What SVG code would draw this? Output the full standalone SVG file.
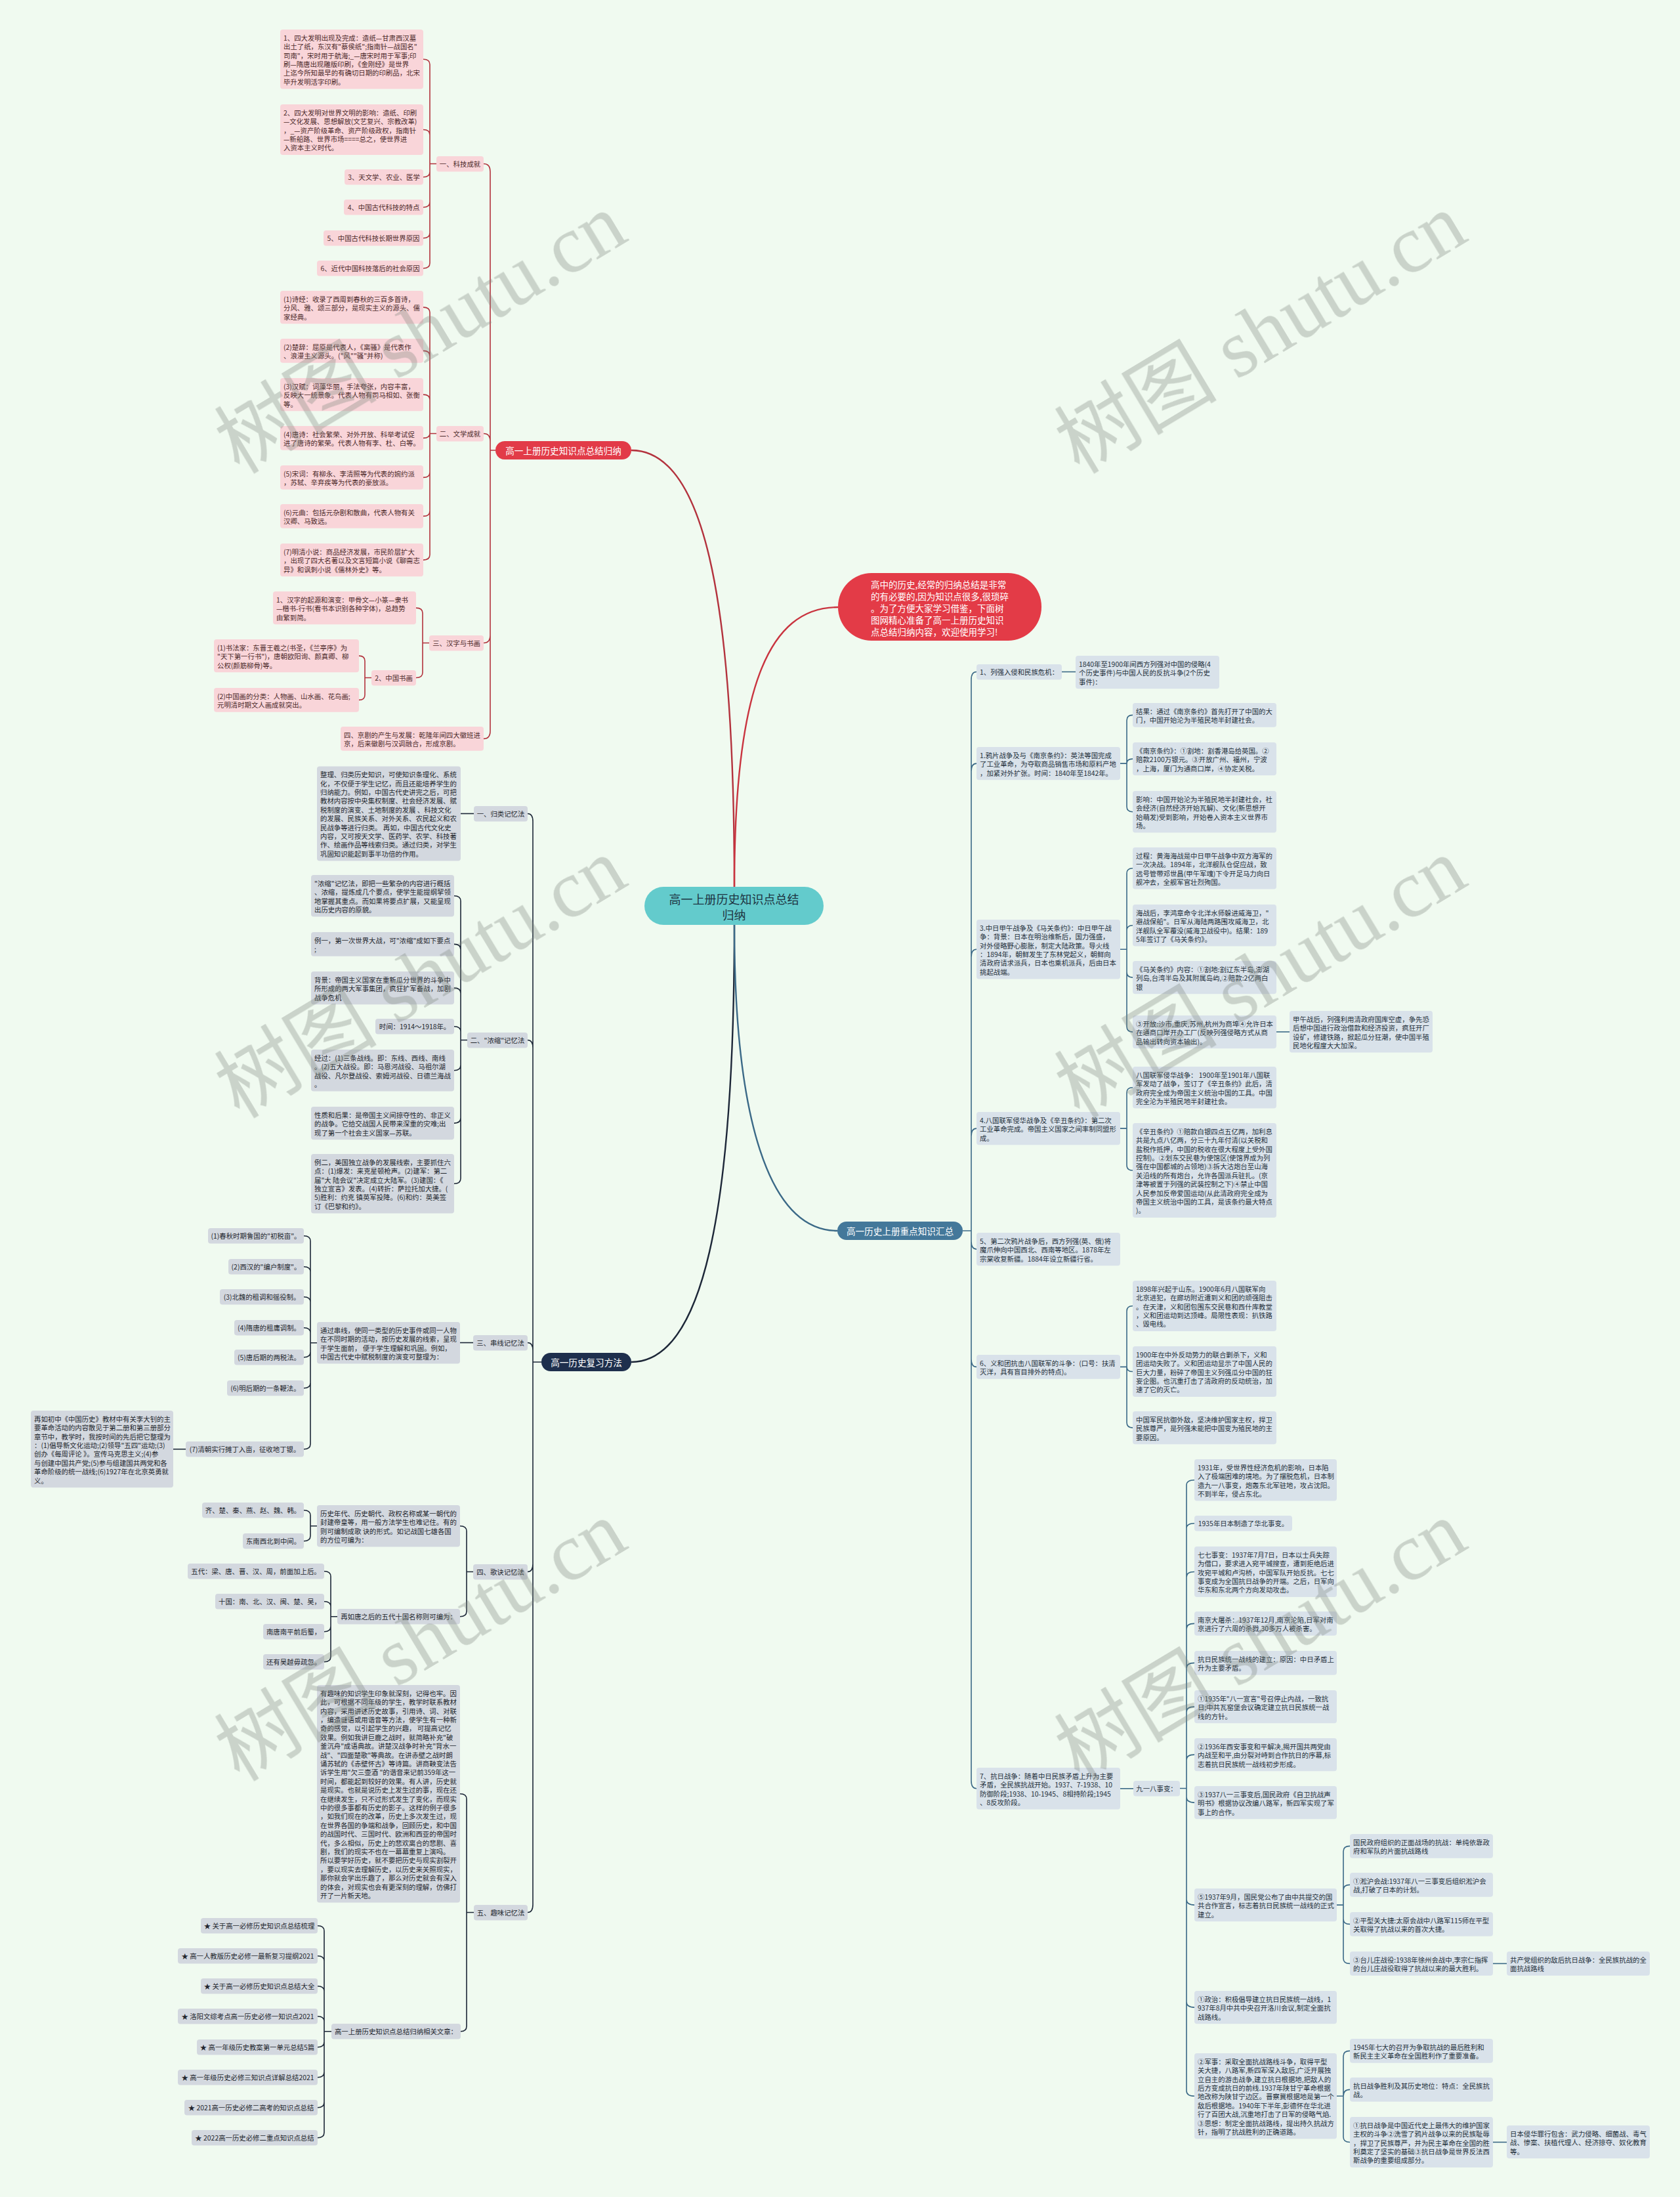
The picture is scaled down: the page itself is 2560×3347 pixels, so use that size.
<svg xmlns="http://www.w3.org/2000/svg" width="2560" height="3347" viewBox="0 0 2560 3347">
<style>
.t{font-family:"Noto Sans CJK SC","Liberation Sans",sans-serif;font-size:10.4px;dominant-baseline:central}
.m{text-anchor:middle}
.pk{fill:#f9d5d9}
.gy{fill:#d3d8df}
.bl{fill:#d9e2ea}
.pt{fill:#4d2b2b}
.gt{fill:#23272e}
.bt{fill:#24303b}
.w{fill:#ffffff;font-size:13.6px}
.lr{fill:none;stroke:#b3323d;stroke-width:1.6}
.ln{fill:none;stroke:#1d2738;stroke-width:1.6}
.ls{fill:none;stroke:#3b6987;stroke-width:1.6}
</style>
<rect width="2560" height="3347" fill="#f0faf0"/>

<g id="connectors">
<path fill="none" stroke="#b3323d" stroke-width="2.4" d="M1119 1351 C1119 900 1070 686 962 686"/>
<path fill="none" stroke="#c9343f" stroke-width="2.4" d="M1119 1351 C1119 1050 1170 925 1277 925"/>
<path fill="none" stroke="#1d2738" stroke-width="2.4" d="M1119 1409 C1119 1850 1070 2075 962 2075"/>
<path fill="none" stroke="#3b6987" stroke-width="2.4" d="M1119 1409 C1119 1700 1170 1875 1276 1875"/>

<path class="lr" stroke-width="2" d="M755 686 H747 V261.5 Q747 249.5 737 249.5 M755 686 H747 V672.5 Q747 660.5 737 660.5 M755 686 H747 V967.5 Q747 979.5 737 979.5 M755 686 H747 V1113.4 Q747 1125.4 737 1125.4"/>
<path class="lr" d="M665 249.5 H655 V98.2 Q655 90.2 645 90.2 M665 249.5 H655 V205.5 Q655 197.5 645 197.5 M665 249.5 H655 V261.7 Q655 269.7 645 269.7 M665 249.5 H655 V307.7 Q655 315.7 645 315.7 M665 249.5 H655 V354.7 Q655 362.7 645 362.7 M665 249.5 H655 V400.7 Q655 408.7 645 408.7"/>
<path class="lr" d="M665 660.5 H655 V476.1 Q655 468.1 645 468.1 M665 660.5 H655 V542.4 Q655 534.4 645 534.4 M665 660.5 H655 V609.1 Q655 601.1 645 601.1 M665 660.5 H655 Q655 667.4 645 667.4 M665 660.5 H655 V719.4 Q655 727.4 645 727.4 M665 660.5 H655 V778.4 Q655 786.4 645 786.4 M665 660.5 H655 V845.1 Q655 853.1 645 853.1"/>
<path class="lr" d="M654 979.5 H644 V934.1 Q644 926.1 634 926.1 M654 979.5 H644 V1024.5 Q644 1032.5 634 1032.5"/>
<path class="lr" d="M566 1032.5 H556 V1007.1 Q556 999.1 547 999.1 M566 1032.5 H556 V1058.4 Q556 1066.4 547 1066.4"/>

<path class="ln" stroke-width="2" d="M825 2075 H812 V1251.5 Q812 1239.5 804 1239.5 M825 2075 H812 V1596.5 Q812 1584.5 804 1584.5 M825 2075 H812 V2057.5 Q812 2045.5 804 2045.5 M825 2075 H812 V2382.5 Q812 2394.5 804 2394.5 M825 2075 H812 V2901.5 Q812 2913.5 804 2913.5"/>
<path class="ln" d="M722 1239.5 H702"/>
<path class="ln" d="M712 1584.5 H702 V1372.8 Q702 1364.8 692 1364.8 M712 1584.5 H702 V1446.4 Q702 1438.4 692 1438.4 M712 1584.5 H702 V1513.1 Q702 1505.1 692 1505.1 M712 1584.5 H702 V1571.7 Q702 1563.7 692 1563.7 M712 1584.5 H702 V1622.8 Q702 1630.8 692 1630.8 M712 1584.5 H702 V1703.1 Q702 1711.1 692 1711.1 M712 1584.5 H702 V1795.2 Q702 1803.2 692 1803.2"/>
<path class="ln" d="M721 2045.5 H701"/>
<path class="ln" d="M483 2045.8 H473 V1890.7 Q473 1882.7 463 1882.7 M483 2045.8 H473 V1937.7 Q473 1929.7 463 1929.7 M483 2045.8 H473 V1983.7 Q473 1975.7 463 1975.7 M483 2045.8 H473 V2030.7 Q473 2022.7 463 2022.7 M483 2045.8 H473 V2059.7 Q473 2067.7 463 2067.7 M483 2045.8 H473 V2106.7 Q473 2114.7 463 2114.7 M483 2045.8 H473 V2199.7 Q473 2207.7 463 2207.7"/>
<path class="ln" d="M283 2207.7 H264"/>
<path class="ln" d="M721 2394.5 H711 V2332.8 Q711 2324.8 701 2324.8 M721 2394.5 H711 V2454.7 Q711 2462.7 701 2462.7"/>
<path class="ln" d="M483 2324.8 H473 V2308.7 Q473 2300.7 463 2300.7 M483 2324.8 H473 V2339.7 Q473 2347.7 463 2347.7"/>
<path class="ln" d="M514 2462.7 H504 V2401.7 Q504 2393.7 494 2393.7 M514 2462.7 H504 V2447.7 Q504 2439.7 494 2439.7 M514 2462.7 H504 V2477.7 Q504 2485.7 494 2485.7 M514 2462.7 H504 V2523.7 Q504 2531.7 494 2531.7"/>
<path class="ln" d="M722 2913.5 H711 V2740.8 Q711 2732.8 701 2732.8 M722 2913.5 H711 V3086.7 Q711 3094.7 702 3094.7"/>
<path class="ln" d="M505 3094.7 H494 V2941.7 Q494 2933.7 484 2933.7 M505 3094.7 H494 V2987.7 Q494 2979.7 484 2979.7 M505 3094.7 H494 V3033.7 Q494 3025.7 484 3025.7 M505 3094.7 H494 V3079.7 Q494 3071.7 484 3071.7 M505 3094.7 H494 V3110.7 Q494 3118.7 484 3118.7 M505 3094.7 H494 V3156.7 Q494 3164.7 484 3164.7 M505 3094.7 H494 V3202.7 Q494 3210.7 484 3210.7 M505 3094.7 H494 V3248.7 Q494 3256.7 484 3256.7"/>

<path class="ls" stroke-width="2" d="M1467 1875 H1480 V1035.5 Q1480 1023.5 1488 1023.5 M1467 1875 H1480 V1175.1 Q1480 1163.1 1488 1163.1 M1467 1875 H1480 V1458.2 Q1480 1446.2 1488 1446.2 M1467 1875 H1480 V1731.1 Q1480 1719.1 1488 1719.1 M1467 1875 H1480 V1891.1 Q1480 1903.1 1488 1903.1 M1467 1875 H1480 V2070.4 Q1480 2082.4 1488 2082.4 M1467 1875 H1480 V2712.8 Q1480 2724.8 1488 2724.8"/>
<path class="ls" d="M1618 1023.5 H1639"/>
<path class="ls" d="M1707 1163.1 H1717 V1097.4 Q1717 1089.4 1726 1089.4 M1707 1163.1 H1717 Q1717 1156.1 1726 1156.1 M1707 1163.1 H1717 V1228.8 Q1717 1236.8 1726 1236.8"/>
<path class="ls" d="M1707 1446.2 H1717 V1330.8 Q1717 1322.8 1726 1322.8 M1707 1446.2 H1717 V1417.8 Q1717 1409.8 1726 1409.8 M1707 1446.2 H1717 V1481.1 Q1717 1489.1 1726 1489.1 M1707 1446.2 H1717 V1564.1 Q1717 1572.1 1726 1572.1"/>
<path class="ls" d="M1945 1572 H1965"/>
<path class="ls" d="M1707 1719.1 H1717 V1664.8 Q1717 1656.8 1726 1656.8 M1707 1719.1 H1717 V1775 Q1717 1783 1726 1783"/>
<path class="ls" d="M1707 2082.4 H1717 V1997.5 Q1717 1989.5 1726 1989.5 M1707 2082.4 H1717 Q1717 2089.5 1726 2089.5 M1707 2082.4 H1717 V2167.1 Q1717 2175.1 1726 2175.1"/>
<path class="ls" d="M1707 2724.8 H1727"/>
<path class="ls" d="M1798 2724.5 H1808 V2262.8 Q1808 2254.8 1820 2254.8 M1798 2724.5 H1808 V2328.7 Q1808 2320.7 1820 2320.7 M1798 2724.5 H1808 V2402.5 Q1808 2394.5 1820 2394.5 M1798 2724.5 H1808 V2481.4 Q1808 2473.4 1820 2473.4 M1798 2724.5 H1808 V2541.4 Q1808 2533.4 1820 2533.4 M1798 2724.5 H1808 V2608.1 Q1808 2600.1 1820 2600.1 M1798 2724.5 H1808 V2681.1 Q1808 2673.1 1820 2673.1 M1798 2724.5 H1808 V2738.1 Q1808 2746.1 1820 2746.1 M1798 2724.5 H1808 V2894.1 Q1808 2902.1 1820 2902.1 M1798 2724.5 H1808 V3050.1 Q1808 3058.1 1820 3058.1 M1798 2724.5 H1808 V3185.3 Q1808 3193.3 1820 3193.3"/>
<path class="ls" d="M2037 2902.1 H2047 V2820.4 Q2047 2812.4 2057 2812.4 M2037 2902.1 H2047 V2879.4 Q2047 2871.4 2057 2871.4 M2037 2902.1 H2047 V2923.4 Q2047 2931.4 2057 2931.4 M2037 2902.1 H2047 V2983.4 Q2047 2991.4 2057 2991.4"/>
<path class="ls" d="M2275 2991.4 H2296"/>
<path class="ls" d="M2037 3193.3 H2047 V3132.4 Q2047 3124.4 2057 3124.4 M2037 3193.3 H2047 Q2047 3183.4 2057 3183.4 M2037 3193.3 H2047 V3255.5 Q2047 3263.5 2057 3263.5"/>
<path class="ls" d="M2275 3263.5 H2296"/>
</g>

<g id="root">
<rect x="982" y="1351" width="273" height="58" rx="29" fill="#63cbcc"/>
<text class="t m" x="1118.5" y="1369" style="font-size:18px;fill:#1e3442"><tspan x="1118.5">高一上册历史知识点总结</tspan><tspan x="1118.5" dy="24">归纳</tspan></text>
</g>

<g id="intro">
<rect x="1277" y="873" width="310" height="103" rx="51" fill="#e33b47"/>
<text class="t" x="1327" y="889.5" style="font-size:13.5px;fill:#ffffff"><tspan x="1327">高中的历史,经常的归纳总结是非常</tspan><tspan x="1327" dy="18">的有必要的,因为知识点很多,很琐碎</tspan><tspan x="1327" dy="18">。为了方便大家学习借鉴，下面树</tspan><tspan x="1327" dy="18">图网精心准备了高一上册历史知识</tspan><tspan x="1327" dy="18">点总结归纳内容，欢迎使用学习!</tspan></text>
</g>

<g id="branch-red">
<rect x="755" y="672" width="207" height="28" rx="14" fill="#e23b48"/>
<text class="t m w" x="858.5" y="686">高一上册历史知识点总结归纳</text>
</g>
<g id="r1"><rect class="pk" x="665" y="238" width="72" height="23.4" rx="4"/><text class="t m pt" x="701" y="249.7">一、科技成就</text></g>
<g id="k1"><rect class="pk" x="427" y="45" width="218" height="90.4" rx="4"/><text class="t pt" x="432" y="56.7"><tspan x="432">1、四大发明出现及完成：造纸—甘肃西汉墓</tspan><tspan x="432" dy="13.4">出土了纸，东汉有"蔡侯纸";指南针—战国名"</tspan><tspan x="432" dy="13.4">司南"，宋时用于航海;_—唐宋时用于军事;印</tspan><tspan x="432" dy="13.4">刷—隋唐出现雕版印刷，《金刚经》是世界</tspan><tspan x="432" dy="13.4">上迄今所知最早的有确切日期的印刷品，北宋</tspan><tspan x="432" dy="13.4">毕升发明活字印刷。</tspan></text></g>
<g id="k2"><rect class="pk" x="427" y="159" width="218" height="77" rx="4"/><text class="t pt" x="432" y="170.7"><tspan x="432">2、四大发明对世界文明的影响：造纸、印刷</tspan><tspan x="432" dy="13.4">—文化发展、思想解放(文艺复兴、宗教改革)</tspan><tspan x="432" dy="13.4">，_—资产阶级革命、资产阶级政权，指南针</tspan><tspan x="432" dy="13.4">—新船路、世界市场====总之，使世界进</tspan><tspan x="432" dy="13.4">入资本主义时代。</tspan></text></g>
<g id="k3"><rect class="pk" x="525" y="258" width="120" height="23.4" rx="4"/><text class="t m pt" x="585" y="269.7">3、天文学、农业、医学</text></g>
<g id="k4"><rect class="pk" x="524" y="304" width="121" height="23.4" rx="4"/><text class="t m pt" x="584.5" y="315.7">4、中国古代科技的特点</text></g>
<g id="k5"><rect class="pk" x="493" y="351" width="152" height="23.4" rx="4"/><text class="t m pt" x="569" y="362.7">5、中国古代科技长期世界原因</text></g>
<g id="k6"><rect class="pk" x="483" y="397" width="162" height="23.4" rx="4"/><text class="t m pt" x="564" y="408.7">6、近代中国科技落后的社会原因</text></g>

<g id="r2"><rect class="pk" x="665" y="649" width="72" height="23.4" rx="4"/><text class="t m pt" x="701" y="660.7">二、文学成就</text></g>
<g id="l1"><rect class="pk" x="427" y="443" width="218" height="50.2" rx="4"/><text class="t pt" x="432" y="454.7"><tspan x="432">(1)诗经：收录了西周到春秋的三百多首诗，</tspan><tspan x="432" dy="13.4">分风、雅、颂三部分，是现实主义的源头、儒</tspan><tspan x="432" dy="13.4">家经典。</tspan></text></g>
<g id="l2"><rect class="pk" x="427" y="516" width="218" height="36.8" rx="4"/><text class="t pt" x="432" y="527.7"><tspan x="432">(2)楚辞：屈原是代表人，《离骚》是代表作</tspan><tspan x="432" dy="13.4">、浪漫主义源头。("风""骚"并称)</tspan></text></g>
<g id="l3"><rect class="pk" x="427" y="576" width="218" height="50.2" rx="4"/><text class="t pt" x="432" y="587.7"><tspan x="432">(3)汉赋：词藻华丽，手法夸张，内容丰富，</tspan><tspan x="432" dy="13.4">反映大一统景象。代表人物有司马相如、张衡</tspan><tspan x="432" dy="13.4">等。</tspan></text></g>
<g id="l4"><rect class="pk" x="427" y="649" width="218" height="36.8" rx="4"/><text class="t pt" x="432" y="660.7"><tspan x="432">(4)唐诗：社会繁荣、对外开放、科举考试促</tspan><tspan x="432" dy="13.4">进了唐诗的繁荣。代表人物有李、杜、白等。</tspan></text></g>
<g id="l5"><rect class="pk" x="427" y="709" width="218" height="36.8" rx="4"/><text class="t pt" x="432" y="720.7"><tspan x="432">(5)宋词：有柳永、李清照等为代表的婉约派</tspan><tspan x="432" dy="13.4">，苏轼、辛弃疾等为代表的豪放派。</tspan></text></g>
<g id="l6"><rect class="pk" x="427" y="768" width="218" height="36.8" rx="4"/><text class="t pt" x="432" y="779.7"><tspan x="432">(6)元曲：包括元杂剧和散曲，代表人物有关</tspan><tspan x="432" dy="13.4">汉卿、马致远。</tspan></text></g>
<g id="l7"><rect class="pk" x="427" y="828" width="218" height="50.2" rx="4"/><text class="t pt" x="432" y="839.7"><tspan x="432">(7)明清小说：商品经济发展，市民阶层扩大</tspan><tspan x="432" dy="13.4">，出现了四大名著以及文言短篇小说《聊斋志</tspan><tspan x="432" dy="13.4">异》和讽刺小说《儒林外史》等。</tspan></text></g>

<g id="r3"><rect class="pk" x="654" y="968" width="83" height="23.4" rx="4"/><text class="t m pt" x="695.5" y="979.7">三、汉字与书画</text></g>
<g id="h1"><rect class="pk" x="416" y="901" width="218" height="50.2" rx="4"/><text class="t pt" x="421" y="912.7"><tspan x="421">1、汉字的起源和演变：甲骨文—小篆—隶书</tspan><tspan x="421" dy="13.4">—楷书-行书(看书本识别各种字体)，总趋势</tspan><tspan x="421" dy="13.4">由繁到简。</tspan></text></g>
<g id="h2"><rect class="pk" x="566" y="1021" width="68" height="23.4" rx="4"/><text class="t m pt" x="600" y="1032.7">2、中国书画</text></g>
<g id="h2a"><rect class="pk" x="326" y="974" width="221" height="50.2" rx="4"/><text class="t pt" x="331" y="985.7"><tspan x="331">(1)书法家：东晋王羲之(书圣，《兰亭序》为</tspan><tspan x="331" dy="13.4">"天下第一行书")，唐朝欧阳询、颜真卿、柳</tspan><tspan x="331" dy="13.4">公权(颜筋柳骨)等。</tspan></text></g>
<g id="h2b"><rect class="pk" x="326" y="1048" width="221" height="36.8" rx="4"/><text class="t pt" x="331" y="1059.7"><tspan x="331">(2)中国画的分类：人物画、山水画、花鸟画;</tspan><tspan x="331" dy="13.4">元明清时期文人画成就突出。</tspan></text></g>
<g id="r4"><rect class="pk" x="519" y="1107" width="218" height="36.8" rx="4"/><text class="t pt" x="524" y="1118.7"><tspan x="524">四、京剧的产生与发展：乾隆年间四大徽班进</tspan><tspan x="524" dy="13.4">京，后来徽剧与汉调融合，形成京剧。</tspan></text></g>

<g id="branch-navy">
<rect x="825" y="2061" width="137" height="28" rx="14" fill="#1e2f4d"/>
<text class="t m w" x="893.5" y="2075">高一历史复习方法</text>
</g>
<g id="n1"><rect class="gy" x="722" y="1228" width="82" height="23.4" rx="4"/><text class="t m gt" x="763" y="1239.7">一、归类记忆法</text></g>
<g id="n1a"><rect class="gy" x="483" y="1167.5" width="219" height="144" rx="4"/><text class="t gt" x="488" y="1179.2"><tspan x="488">整理、归类历史知识，可使知识条理化、系统</tspan><tspan x="488" dy="13.4">化，不仅便于学生记忆，而且还能培养学生的</tspan><tspan x="488" dy="13.4">归纳能力。例如，中国古代史讲完之后，可把</tspan><tspan x="488" dy="13.4">教材内容按中央集权制度、社会经济发展、赋</tspan><tspan x="488" dy="13.4">税制度的演变、土地制度的发展 、科技文化</tspan><tspan x="488" dy="13.4">的发展、民族关系、对外关系、农民起义和农</tspan><tspan x="488" dy="13.4">民战争等进行归类。 再如，中国古代文化史</tspan><tspan x="488" dy="13.4">内容，又可按天文学、医药学、农学、科技著</tspan><tspan x="488" dy="13.4">作、绘画作品等线索归类。通过归类，对学生</tspan><tspan x="488" dy="13.4">巩固知识能起到事半功倍的作用。</tspan></text></g>

<g id="n2"><rect class="gy" x="712" y="1573" width="92" height="23.4" rx="4"/><text class="t m gt" x="758" y="1584.7">二、"浓缩"记忆法</text></g>
<g id="n2a"><rect class="gy" x="474" y="1333" width="218" height="63.6" rx="4"/><text class="t gt" x="479" y="1344.7"><tspan x="479">"浓缩"记忆法，即把一些繁杂的内容进行概括</tspan><tspan x="479" dy="13.4">、浓缩，提炼成几个要点，使学生能提纲挈领</tspan><tspan x="479" dy="13.4">地掌握其重点。而如果将要点扩展，又能呈现</tspan><tspan x="479" dy="13.4">出历史内容的原貌。</tspan></text></g>
<g id="n2b"><rect class="gy" x="474" y="1420" width="218" height="36.8" rx="4"/><text class="t gt" x="479" y="1431.7"><tspan x="479">例一，第一次世界大战，可"浓缩"成如下要点</tspan><tspan x="479" dy="13.4">;</tspan></text></g>
<g id="n2c"><rect class="gy" x="474" y="1480" width="218" height="50.2" rx="4"/><text class="t gt" x="479" y="1491.7"><tspan x="479">背景：帝国主义国家在重新瓜分世界的斗争中</tspan><tspan x="479" dy="13.4">所形成的两大军事集团，疯狂扩军备战，加剧</tspan><tspan x="479" dy="13.4">战争危机</tspan></text></g>
<g id="n2d"><rect class="gy" x="572" y="1552" width="120" height="23.4" rx="4"/><text class="t m gt" x="632" y="1563.7">时间：1914～1918年。</text></g>
<g id="n2e"><rect class="gy" x="474" y="1599" width="218" height="63.6" rx="4"/><text class="t gt" x="479" y="1610.7"><tspan x="479">经过：(1)三条战线。即：东线、西线、南线</tspan><tspan x="479" dy="13.4">。(2)五大战役。即：马恩河战役、马祖尔湖</tspan><tspan x="479" dy="13.4">战役、凡尔登战役、索姆河战役、日德兰海战</tspan><tspan x="479" dy="13.4">。</tspan></text></g>
<g id="n2f"><rect class="gy" x="474" y="1686" width="218" height="50.2" rx="4"/><text class="t gt" x="479" y="1697.7"><tspan x="479">性质和后果：是帝国主义间掠夺性的、非正义</tspan><tspan x="479" dy="13.4">的战争。它给交战国人民带来深重的灾难;出</tspan><tspan x="479" dy="13.4">现了第一个社会主义国家—苏联。</tspan></text></g>
<g id="n2g"><rect class="gy" x="474" y="1758" width="218" height="90.4" rx="4"/><text class="t gt" x="479" y="1769.7"><tspan x="479">例二，美国独立战争的发展线索，主要抓住六</tspan><tspan x="479" dy="13.4">点：(1)爆发：来克星顿枪声。(2)建军：第二</tspan><tspan x="479" dy="13.4">届"大 陆会议"决定成立大陆军。(3)建国：《</tspan><tspan x="479" dy="13.4">独立宣言》发表。(4)转折：萨拉托加大捷。(</tspan><tspan x="479" dy="13.4">5)胜利：约克 镇英军投降。(6)和约：英美签</tspan><tspan x="479" dy="13.4">订《巴黎和约》。</tspan></text></g>

<g id="n3"><rect class="gy" x="721" y="2034" width="83" height="23.4" rx="4"/><text class="t m gt" x="762.5" y="2045.7">三、串线记忆法</text></g>
<g id="n3a"><rect class="gy" x="483" y="2014" width="218" height="63.6" rx="4"/><text class="t gt" x="488" y="2025.7"><tspan x="488">通过串线，使同一类型的历史事件或同一人物</tspan><tspan x="488" dy="13.4">在不同时期的活动，按历史发展的线索，呈现</tspan><tspan x="488" dy="13.4">于学生面前， 便于学生理解和巩固。例如，</tspan><tspan x="488" dy="13.4">中国古代史中赋税制度的演变可整理为：</tspan></text></g>
<g id="c1"><rect class="gy" x="317" y="1871" width="146" height="23.4" rx="4"/><text class="t m gt" x="390" y="1882.7">(1)春秋时期鲁国的"初税亩"。</text></g>
<g id="c2"><rect class="gy" x="348" y="1918" width="115" height="23.4" rx="4"/><text class="t m gt" x="405.5" y="1929.7">(2)西汉的"编户制度"。</text></g>
<g id="c3"><rect class="gy" x="335" y="1964" width="128" height="23.4" rx="4"/><text class="t m gt" x="399" y="1975.7">(3)北魏的租调和徭役制。</text></g>
<g id="c4"><rect class="gy" x="357" y="2011" width="106" height="23.4" rx="4"/><text class="t m gt" x="410" y="2022.7">(4)隋唐的租庸调制。</text></g>
<g id="c5"><rect class="gy" x="357" y="2056" width="106" height="23.4" rx="4"/><text class="t m gt" x="410" y="2067.7">(5)唐后期的两税法。</text></g>
<g id="c6"><rect class="gy" x="346" y="2103" width="117" height="23.4" rx="4"/><text class="t m gt" x="404.5" y="2114.7">(6)明后期的一条鞭法。</text></g>
<g id="c7"><rect class="gy" x="283" y="2196" width="180" height="23.4" rx="4"/><text class="t m gt" x="373" y="2207.7">(7)清朝实行摊丁入亩，征收地丁银。</text></g>
<g id="c7a"><rect class="gy" x="47" y="2149" width="217" height="117.2" rx="4"/><text class="t gt" x="52" y="2160.7"><tspan x="52">再如初中《中国历史》教材中有关李大钊的主</tspan><tspan x="52" dy="13.4">要革命活动的内容散见于第二册和第三册部分</tspan><tspan x="52" dy="13.4">章节中，教学时，我按时间的先后把它整理为</tspan><tspan x="52" dy="13.4">：(1)倡导新文化运动;(2)领导"五四"运动;(3)</tspan><tspan x="52" dy="13.4">创办《每周评论 》。宣传马克思主义;(4)参</tspan><tspan x="52" dy="13.4">与创建中国共产党;(5)参与组建国共两党和各</tspan><tspan x="52" dy="13.4">革命阶级的统一战线;(6)1927年在北京英勇就</tspan><tspan x="52" dy="13.4">义。</tspan></text></g>

<g id="n4"><rect class="gy" x="721" y="2383" width="83" height="23.4" rx="4"/><text class="t m gt" x="762.5" y="2394.7">四、歌诀记忆法</text></g>
<g id="n4a"><rect class="gy" x="483" y="2293" width="218" height="63.6" rx="4"/><text class="t gt" x="488" y="2304.7"><tspan x="488">历史年代、历史朝代、政权名称或某一朝代的</tspan><tspan x="488" dy="13.4">封建帝皇等，用一般方法学生也难记住。有的</tspan><tspan x="488" dy="13.4">则可编制成歌 诀的形式。如记战国七雄各国</tspan><tspan x="488" dy="13.4">的方位可编为：</tspan></text></g>
<g id="q1"><rect class="gy" x="308" y="2289" width="155" height="23.4" rx="4"/><text class="t m gt" x="385.5" y="2300.7">齐、楚、秦、燕、赵、魏、韩。</text></g>
<g id="q2"><rect class="gy" x="370" y="2336" width="93" height="23.4" rx="4"/><text class="t m gt" x="416.5" y="2347.7">东南西北到中间。</text></g>
<g id="n4b"><rect class="gy" x="514" y="2451" width="187" height="23.4" rx="4"/><text class="t m gt" x="607.5" y="2462.7">再如唐之后的五代十国名称则可编为：</text></g>
<g id="w1"><rect class="gy" x="286" y="2382" width="208" height="23.4" rx="4"/><text class="t m gt" x="390" y="2393.7">五代：梁、唐、晋、汉、周，前面加上后。</text></g>
<g id="w2"><rect class="gy" x="328" y="2428" width="166" height="23.4" rx="4"/><text class="t m gt" x="411" y="2439.7">十国：南、北、汉、闽、楚、吴，</text></g>
<g id="w3"><rect class="gy" x="401" y="2474" width="93" height="23.4" rx="4"/><text class="t m gt" x="447.5" y="2485.7">南唐南平前后蜀，</text></g>
<g id="w4"><rect class="gy" x="401" y="2520" width="93" height="23.4" rx="4"/><text class="t m gt" x="447.5" y="2531.7">还有吴越毋疏忽。</text></g>

<g id="n5"><rect class="gy" x="722" y="2902" width="82" height="23.4" rx="4"/><text class="t m gt" x="763" y="2913.7">五、趣味记忆法</text></g>
<g id="n5a"><rect class="gy" x="483" y="2567" width="218" height="331.6" rx="4"/><text class="t gt" x="488" y="2578.7"><tspan x="488">有趣味的知识学生印象就深刻，记得也牢。因</tspan><tspan x="488" dy="13.4">此，可根据不同年级的学生，教学时联系教材</tspan><tspan x="488" dy="13.4">内容，采用讲述历史故事，引用诗、词、对联</tspan><tspan x="488" dy="13.4">，编造谜语或用谐音等方法，使学生有一种新</tspan><tspan x="488" dy="13.4">奇的感觉，以引起学生的兴趣， 可提高记忆</tspan><tspan x="488" dy="13.4">效果。例如我讲巨鹿之战时，就简略补充"破</tspan><tspan x="488" dy="13.4">釜沉舟"成语典故。讲楚汉战争时补充"背水一</tspan><tspan x="488" dy="13.4">战"、"四面楚歌"等典故。在讲赤壁之战时朗</tspan><tspan x="488" dy="13.4">诵苏轼的《赤壁怀古》等诗篇。讲商鞅变法告</tspan><tspan x="488" dy="13.4">诉学生用"欠三壶酒 "的谐音来记前359年这一</tspan><tspan x="488" dy="13.4">时间，都能起到较好的效果。有人讲，历史就</tspan><tspan x="488" dy="13.4">是现实。也就是说历史上发生过的事，现在还</tspan><tspan x="488" dy="13.4">在继续发生，只不过形式发生了变化，而现实</tspan><tspan x="488" dy="13.4">中的很多事都有历史的影子。这样的例子很多</tspan><tspan x="488" dy="13.4">，如我们现在的改革，历史上多次发生过，现</tspan><tspan x="488" dy="13.4">在世界各国的争端和战争，回顾历史，和中国</tspan><tspan x="488" dy="13.4">的战国时代、三国时代、欧洲和西亚的帝国时</tspan><tspan x="488" dy="13.4">代，多么相似，历史上的悲欢离合的悲剧、喜</tspan><tspan x="488" dy="13.4">剧，我们的现实不也在一幕幕重复上演吗。</tspan><tspan x="488" dy="13.4">所以要学好历史，就不要把历史与现实割裂开</tspan><tspan x="488" dy="13.4">，要以现实去理解历史，以历史来关照现实，</tspan><tspan x="488" dy="13.4">那你就会学出乐趣了，那么对历史就会有深入</tspan><tspan x="488" dy="13.4">的体会，对现实也会有更深刻的理解，仿佛打</tspan><tspan x="488" dy="13.4">开了一片新天地。</tspan></text></g>
<g id="n5b"><rect class="gy" x="505" y="3083" width="197" height="23.4" rx="4"/><text class="t m gt" x="603.5" y="3094.7">高一上册历史知识点总结归纳相关文章：</text></g>
<g id="a1"><rect class="gy" x="306" y="2922" width="178" height="23.4" rx="4"/><text class="t m gt" x="395" y="2933.7">★ 关于高一必修历史知识点总结梳理</text></g>
<g id="a2"><rect class="gy" x="271" y="2968" width="213" height="23.4" rx="4"/><text class="t m gt" x="377.5" y="2979.7">★ 高一人教版历史必修一最新复习提纲2021</text></g>
<g id="a3"><rect class="gy" x="306" y="3014" width="178" height="23.4" rx="4"/><text class="t m gt" x="395" y="3025.7">★ 关于高一必修历史知识点总结大全</text></g>
<g id="a4"><rect class="gy" x="271" y="3060" width="213" height="23.4" rx="4"/><text class="t m gt" x="377.5" y="3071.7">★ 洛阳文综考点高一历史必修一知识点2021</text></g>
<g id="a5"><rect class="gy" x="300" y="3107" width="184" height="23.4" rx="4"/><text class="t m gt" x="392" y="3118.7">★ 高一年级历史教案第一单元总结5篇</text></g>
<g id="a6"><rect class="gy" x="271" y="3153" width="213" height="23.4" rx="4"/><text class="t m gt" x="377.5" y="3164.7">★ 高一年级历史必修三知识点详解总结2021</text></g>
<g id="a7"><rect class="gy" x="281" y="3199" width="203" height="23.4" rx="4"/><text class="t m gt" x="382.5" y="3210.7">★ 2021高一历史必修二高考的知识点总结</text></g>
<g id="a8"><rect class="gy" x="292" y="3245" width="192" height="23.4" rx="4"/><text class="t m gt" x="388" y="3256.7">★ 2022高一历史必修二重点知识点总结</text></g>

<g id="branch-steel">
<rect x="1276" y="1861" width="191" height="28" rx="14" fill="#44789a"/>
<text class="t m w" x="1371.5" y="1875">高一历史上册重点知识汇总</text>
</g>
<g id="s1"><rect class="bl" x="1488" y="1012" width="130" height="23.4" rx="4"/><text class="t m bt" x="1553" y="1023.7">1、列强入侵和民族危机：</text></g>
<g id="s1a"><rect class="bl" x="1639" y="999" width="219" height="50.2" rx="4"/><text class="t bt" x="1644" y="1010.7"><tspan x="1644">1840年至1900年间西方列强对中国的侵略(4</tspan><tspan x="1644" dy="13.4">个历史事件)与中国人民的反抗斗争(2个历史</tspan><tspan x="1644" dy="13.4">事件)：</tspan></text></g>
<g id="s2"><rect class="bl" x="1488" y="1138" width="219" height="50.2" rx="4"/><text class="t bt" x="1493" y="1149.7"><tspan x="1493">1.鸦片战争及与《南京条约》：英法等国完成</tspan><tspan x="1493" dy="13.4">了工业革命，为夺取商品销售市场和原料产地</tspan><tspan x="1493" dy="13.4">，加紧对外扩张。时间：1840年至1842年。</tspan></text></g>
<g id="s2a"><rect class="bl" x="1726" y="1071" width="219" height="36.8" rx="4"/><text class="t bt" x="1731" y="1082.7"><tspan x="1731">结果：通过《南京条约》首先打开了中国的大</tspan><tspan x="1731" dy="13.4">门，中国开始沦为半殖民地半封建社会。</tspan></text></g>
<g id="s2b"><rect class="bl" x="1726" y="1131" width="219" height="50.2" rx="4"/><text class="t bt" x="1731" y="1142.7"><tspan x="1731">《南京条约》：①割地：割香港岛给英国。②</tspan><tspan x="1731" dy="13.4">赔款2100万银元。③开放广州、福州，宁波</tspan><tspan x="1731" dy="13.4">，上海，厦门为通商口岸，④协定关税。</tspan></text></g>
<g id="s2c"><rect class="bl" x="1726" y="1205" width="219" height="63.6" rx="4"/><text class="t bt" x="1731" y="1216.7"><tspan x="1731">影响：中国开始沦为半殖民地半封建社会，社</tspan><tspan x="1731" dy="13.4">会经济(自然经济开始瓦解)、文化(新思想开</tspan><tspan x="1731" dy="13.4">始萌发)受到影响，开始卷入资本主义世界市</tspan><tspan x="1731" dy="13.4">场。</tspan></text></g>
<g id="s3"><rect class="bl" x="1488" y="1401" width="219" height="90.4" rx="4"/><text class="t bt" x="1493" y="1412.7"><tspan x="1493">3.中日甲午战争及《马关条约》：中日甲午战</tspan><tspan x="1493" dy="13.4">争：背景：日本在明治维新后，国力强盛，</tspan><tspan x="1493" dy="13.4">对外侵略野心膨胀，制定大陆政策。导火线</tspan><tspan x="1493" dy="13.4">：1894年，朝鲜发生了东林党起义，朝鲜向</tspan><tspan x="1493" dy="13.4">清政府请求派兵，日本也乘机派兵，后由日本</tspan><tspan x="1493" dy="13.4">挑起战端。</tspan></text></g>
<g id="s3a"><rect class="bl" x="1726" y="1291" width="219" height="63.6" rx="4"/><text class="t bt" x="1731" y="1302.7"><tspan x="1731">过程：黄海海战是中日甲午战争中双方海军的</tspan><tspan x="1731" dy="13.4">一次决战。1894年，北洋舰队仓促应战，致</tspan><tspan x="1731" dy="13.4">远号管带邓世昌(甲午军魂)下令开足马力向日</tspan><tspan x="1731" dy="13.4">舰冲去，全舰军官壮烈殉国。</tspan></text></g>
<g id="s3b"><rect class="bl" x="1726" y="1378" width="219" height="63.6" rx="4"/><text class="t bt" x="1731" y="1389.7"><tspan x="1731">海战后，李鸿章命令北洋水师躲进威海卫，"</tspan><tspan x="1731" dy="13.4">避战保船"。日军从海陆两路围攻威海卫，北</tspan><tspan x="1731" dy="13.4">洋舰队全军覆没(威海卫战役中)。结果：189</tspan><tspan x="1731" dy="13.4">5年签订了《马关条约》。</tspan></text></g>
<g id="s3c"><rect class="bl" x="1726" y="1464" width="219" height="50.2" rx="4"/><text class="t bt" x="1731" y="1475.7"><tspan x="1731">《马关条约》内容：①割地:割辽东半岛,澎湖</tspan><tspan x="1731" dy="13.4">列岛,台湾半岛及其附属岛屿,②赔款:2亿两白</tspan><tspan x="1731" dy="13.4">银</tspan></text></g>
<g id="s3d"><rect class="bl" x="1726" y="1547" width="219" height="50.2" rx="4"/><text class="t bt" x="1731" y="1558.7"><tspan x="1731">③开放:沙市,重庆,苏州,杭州为商埠④允许日本</tspan><tspan x="1731" dy="13.4">在通商口岸开办工厂(反映列强侵略方式从商</tspan><tspan x="1731" dy="13.4">品输出转向资本输出)。</tspan></text></g>
<g id="s3e"><rect class="bl" x="1965" y="1540" width="218" height="63.6" rx="4"/><text class="t bt" x="1970" y="1551.7"><tspan x="1970">甲午战后，列强利用清政府国库空虚，争先恐</tspan><tspan x="1970" dy="13.4">后想中国进行政治借款和经济投资，疯狂开厂</tspan><tspan x="1970" dy="13.4">设矿，修建铁路，掀起瓜分狂潮，使中国半殖</tspan><tspan x="1970" dy="13.4">民地化程度大大加深。</tspan></text></g>
<g id="s4"><rect class="bl" x="1488" y="1694" width="219" height="50.2" rx="4"/><text class="t bt" x="1493" y="1705.7"><tspan x="1493">4.八国联军侵华战争及《辛丑条约》：第二次</tspan><tspan x="1493" dy="13.4">工业革命完成。帝国主义国家之间率制同盟形</tspan><tspan x="1493" dy="13.4">成。</tspan></text></g>
<g id="s4a"><rect class="bl" x="1726" y="1625" width="219" height="63.6" rx="4"/><text class="t bt" x="1731" y="1636.7"><tspan x="1731">八国联军侵华战争： 1900年至1901年八国联</tspan><tspan x="1731" dy="13.4">军发动了战争，签订了《辛丑条约》此后，清</tspan><tspan x="1731" dy="13.4">政府完全成为帝国主义统治中国的工具。中国</tspan><tspan x="1731" dy="13.4">完全沦为半殖民地半封建社会。</tspan></text></g>
<g id="s4b"><rect class="bl" x="1726" y="1711" width="219" height="144" rx="4"/><text class="t bt" x="1731" y="1722.7"><tspan x="1731">《辛丑条约》①赔款白银四点五亿两，加利息</tspan><tspan x="1731" dy="13.4">共是九点八亿两，分三十九年付清(以关税和</tspan><tspan x="1731" dy="13.4">盐税作抵押，中国的税收在很大程度上受外国</tspan><tspan x="1731" dy="13.4">控制)。②划东交民巷为使馆区(使馆界成为列</tspan><tspan x="1731" dy="13.4">强在中国都城的占领地)③拆大沽炮台至山海</tspan><tspan x="1731" dy="13.4">关沿线的所有炮台，允许各国派兵驻扎。(京</tspan><tspan x="1731" dy="13.4">津等被置于列强的武装控制之下)④禁止中国</tspan><tspan x="1731" dy="13.4">人民参加反帝爱国运动(从此清政府完全成为</tspan><tspan x="1731" dy="13.4">帝国主义统治中国的工具，是该条约最大特点</tspan><tspan x="1731" dy="13.4">)。</tspan></text></g>
<g id="s5"><rect class="bl" x="1488" y="1878" width="219" height="50.2" rx="4"/><text class="t bt" x="1493" y="1889.7"><tspan x="1493">5、第二次鸦片战争后，西方列强(英、俄)将</tspan><tspan x="1493" dy="13.4">魔爪伸向中国西北、西南等地区。1878年左</tspan><tspan x="1493" dy="13.4">宗棠收复新疆。1884年设立新疆行省。</tspan></text></g>
<g id="s6"><rect class="bl" x="1488" y="2064" width="219" height="36.8" rx="4"/><text class="t bt" x="1493" y="2075.7"><tspan x="1493">6、义和团抗击八国联军的斗争：(口号：扶清</tspan><tspan x="1493" dy="13.4">灭洋，具有盲目排外的特点)。</tspan></text></g>
<g id="s6a"><rect class="bl" x="1726" y="1951" width="219" height="77" rx="4"/><text class="t bt" x="1731" y="1962.7"><tspan x="1731">1898年兴起于山东。1900年6月八国联军向</tspan><tspan x="1731" dy="13.4">北京进犯，在廊坊附近遭到义和团的顽强阻击</tspan><tspan x="1731" dy="13.4">。在天津，义和团包围东交民巷和西什库教堂</tspan><tspan x="1731" dy="13.4">，义和团运动到达顶峰。局限性表现：扒铁路</tspan><tspan x="1731" dy="13.4">、毁电线。</tspan></text></g>
<g id="s6b"><rect class="bl" x="1726" y="2051" width="219" height="77" rx="4"/><text class="t bt" x="1731" y="2062.7"><tspan x="1731">1900年在中外反动势力的联合剿杀下，义和</tspan><tspan x="1731" dy="13.4">团运动失败了。义和团运动显示了中国人民的</tspan><tspan x="1731" dy="13.4">巨大力量，粉碎了帝国主义列强瓜分中国的狂</tspan><tspan x="1731" dy="13.4">妄企图。也沉重打击了清政府的反动统治，加</tspan><tspan x="1731" dy="13.4">速了它的灭亡。</tspan></text></g>
<g id="s6c"><rect class="bl" x="1726" y="2150" width="219" height="50.2" rx="4"/><text class="t bt" x="1731" y="2161.7"><tspan x="1731">中国军民抗御外敌，坚决维护国家主权，捍卫</tspan><tspan x="1731" dy="13.4">民族尊严，是列强未能把中国变为殖民地的主</tspan><tspan x="1731" dy="13.4">要原因。</tspan></text></g>
<g id="s7"><rect class="bl" x="1488" y="2693" width="219" height="63.6" rx="4"/><text class="t bt" x="1493" y="2704.7"><tspan x="1493">7、抗日战争：随着中日民族矛盾上升为主要</tspan><tspan x="1493" dy="13.4">矛盾，全民族抗战开始。1937、7-1938、10</tspan><tspan x="1493" dy="13.4">防御阶段;1938、10-1945、8相持阶段;1945</tspan><tspan x="1493" dy="13.4">、8反攻阶段。</tspan></text></g>
<g id="s7a"><rect class="bl" x="1727" y="2713" width="71" height="23.4" rx="4"/><text class="t m bt" x="1762.5" y="2724.7">九一八事变：</text></g>
<g id="k01"><rect class="bl" x="1820" y="2223" width="217" height="63.6" rx="4"/><text class="t bt" x="1825" y="2234.7"><tspan x="1825">1931年，受世界性经济危机的影响，日本陷</tspan><tspan x="1825" dy="13.4">入了极端困难的境地。为了摆脱危机，日本制</tspan><tspan x="1825" dy="13.4">造九一八事变，炮轰东北军驻地，攻占沈阳。</tspan><tspan x="1825" dy="13.4">不到半年，侵占东北。</tspan></text></g>
<g id="k02"><rect class="bl" x="1820" y="2309" width="149" height="23.4" rx="4"/><text class="t m bt" x="1894.5" y="2320.7">1935年日本制造了华北事变。</text></g>
<g id="k03"><rect class="bl" x="1820" y="2356" width="217" height="77" rx="4"/><text class="t bt" x="1825" y="2367.7"><tspan x="1825">七七事变：1937年7月7日，日本以士兵失踪</tspan><tspan x="1825" dy="13.4">为借口，要求进入宛平城搜查，遭到拒绝后进</tspan><tspan x="1825" dy="13.4">攻宛平城和卢沟桥，中国军队开始反抗。七七</tspan><tspan x="1825" dy="13.4">事变成为全国抗日战争的开端。之后，日军向</tspan><tspan x="1825" dy="13.4">华东和东北两个方向发动攻击。</tspan></text></g>
<g id="k04"><rect class="bl" x="1820" y="2455" width="217" height="36.8" rx="4"/><text class="t bt" x="1825" y="2466.7"><tspan x="1825">南京大屠杀：1937年12月,南京沦陷,日军对南</tspan><tspan x="1825" dy="13.4">京进行了六周的杀戮,30多万人被杀害。</tspan></text></g>
<g id="k05"><rect class="bl" x="1820" y="2515" width="217" height="36.8" rx="4"/><text class="t bt" x="1825" y="2526.7"><tspan x="1825">抗日民族统一战线的建立：原因：中日矛盾上</tspan><tspan x="1825" dy="13.4">升为主要矛盾。</tspan></text></g>
<g id="k06"><rect class="bl" x="1820" y="2575" width="217" height="50.2" rx="4"/><text class="t bt" x="1825" y="2586.7"><tspan x="1825">①1935年"八一宣言"号召停止内战，一致抗</tspan><tspan x="1825" dy="13.4">日;中共瓦窑堡会议确定建立抗日民族统一战</tspan><tspan x="1825" dy="13.4">线的方针。</tspan></text></g>
<g id="k07"><rect class="bl" x="1820" y="2648" width="217" height="50.2" rx="4"/><text class="t bt" x="1825" y="2659.7"><tspan x="1825">②1936年西安事变和平解决,揭开国共两党由</tspan><tspan x="1825" dy="13.4">内战至和平,由分裂对峙到合作抗日的序幕,标</tspan><tspan x="1825" dy="13.4">志着抗日民族统一战线初步形成。</tspan></text></g>
<g id="k08"><rect class="bl" x="1820" y="2721" width="217" height="50.2" rx="4"/><text class="t bt" x="1825" y="2732.7"><tspan x="1825">③1937八一三事变后,国民政府《自卫抗战声</tspan><tspan x="1825" dy="13.4">明书》根据协议改编八路军，新四军实现了军</tspan><tspan x="1825" dy="13.4">事上的合作。</tspan></text></g>
<g id="k09"><rect class="bl" x="1820" y="2877" width="217" height="50.2" rx="4"/><text class="t bt" x="1825" y="2888.7"><tspan x="1825">⑤1937年9月，国民党公布了由中共提交的国</tspan><tspan x="1825" dy="13.4">共合作宣言，标志着抗日民族统一战线的正式</tspan><tspan x="1825" dy="13.4">建立。</tspan></text></g>
<g id="k10"><rect class="bl" x="1820" y="3033" width="217" height="50.2" rx="4"/><text class="t bt" x="1825" y="3044.7"><tspan x="1825">①政治：积极倡导建立抗日民族统一战线，1</tspan><tspan x="1825" dy="13.4">937年8月中共中央召开洛川会议,制定全面抗</tspan><tspan x="1825" dy="13.4">战路线。</tspan></text></g>
<g id="k11"><rect class="bl" x="1820" y="3128" width="217" height="130.6" rx="4"/><text class="t bt" x="1825" y="3139.7"><tspan x="1825">②军事：采取全面抗战路线斗争，取得平型</tspan><tspan x="1825" dy="13.4">关大捷，八路军,新四军深入敌后,广泛开展独</tspan><tspan x="1825" dy="13.4">立自主的游击战争,建立抗日根据地,把敌人的</tspan><tspan x="1825" dy="13.4">后方变成抗日的前线.1937年陕甘宁革命根据</tspan><tspan x="1825" dy="13.4">地改称为陕甘宁边区。晋察冀根据地是第一个</tspan><tspan x="1825" dy="13.4">敌后根据地。1940年下半年,彭德怀在华北进</tspan><tspan x="1825" dy="13.4">行了百团大战,沉重地打击了日军的侵略气焰.</tspan><tspan x="1825" dy="13.4">③思想：制定全面抗战路线，提出持久抗战方</tspan><tspan x="1825" dy="13.4">针，指明了抗战胜利的正确道路。</tspan></text></g>
<g id="m1"><rect class="bl" x="2057" y="2794" width="218" height="36.8" rx="4"/><text class="t bt" x="2062" y="2805.7"><tspan x="2062">国民政府组织的正面战场的抗战：单纯依靠政</tspan><tspan x="2062" dy="13.4">府和军队的片面抗战路线</tspan></text></g>
<g id="m2"><rect class="bl" x="2057" y="2853" width="218" height="36.8" rx="4"/><text class="t bt" x="2062" y="2864.7"><tspan x="2062">①淞沪会战:1937年八一三事变后组织淞沪会</tspan><tspan x="2062" dy="13.4">战,打破了日本的计划。</tspan></text></g>
<g id="m3"><rect class="bl" x="2057" y="2913" width="218" height="36.8" rx="4"/><text class="t bt" x="2062" y="2924.7"><tspan x="2062">②平型关大捷:太原会战中八路军115师在平型</tspan><tspan x="2062" dy="13.4">关取得了抗战以来的首次大捷。</tspan></text></g>
<g id="m4"><rect class="bl" x="2057" y="2973" width="218" height="36.8" rx="4"/><text class="t bt" x="2062" y="2984.7"><tspan x="2062">③台儿庄战役:1938年徐州会战中,李宗仁指挥</tspan><tspan x="2062" dy="13.4">的台儿庄战役取得了抗战以来的最大胜利。</tspan></text></g>
<g id="m5"><rect class="bl" x="2296" y="2973" width="218" height="36.8" rx="4"/><text class="t bt" x="2301" y="2984.7"><tspan x="2301">共产党组织的敌后抗日战争：全民族抗战的全</tspan><tspan x="2301" dy="13.4">面抗战路线</tspan></text></g>
<g id="p1"><rect class="bl" x="2057" y="3106" width="218" height="36.8" rx="4"/><text class="t bt" x="2062" y="3117.7"><tspan x="2062">1945年七大的召开为争取抗战的最后胜利和</tspan><tspan x="2062" dy="13.4">新民主主义革命在全国胜利作了重要准备。</tspan></text></g>
<g id="p2"><rect class="bl" x="2057" y="3165" width="218" height="36.8" rx="4"/><text class="t bt" x="2062" y="3176.7"><tspan x="2062">抗日战争胜利及其历史地位：特点：全民族抗</tspan><tspan x="2062" dy="13.4">战。</tspan></text></g>
<g id="p3"><rect class="bl" x="2057" y="3225" width="218" height="77" rx="4"/><text class="t bt" x="2062" y="3236.7"><tspan x="2062">①抗日战争是中国近代史上最伟大的维护国家</tspan><tspan x="2062" dy="13.4">主权的斗争②洗雪了鸦片战争以来的民族耻辱</tspan><tspan x="2062" dy="13.4">，捍卫了民族尊严，并为民主革命在全国的胜</tspan><tspan x="2062" dy="13.4">利奠定了坚实的基础③抗日战争是世界反法西</tspan><tspan x="2062" dy="13.4">斯战争的重要组成部分。</tspan></text></g>
<g id="p4"><rect class="bl" x="2296" y="3238" width="218" height="50.2" rx="4"/><text class="t bt" x="2301" y="3249.7"><tspan x="2301">日本侵华罪行包含：武力侵略、细菌战、毒气</tspan><tspan x="2301" dy="13.4">战、惨案、扶植代理人、经济掠夺、奴化教育</tspan><tspan x="2301" dy="13.4">等。</tspan></text></g>

<g id="watermark" font-family="'Liberation Serif','Noto Sans CJK SC',serif" font-size="124" fill="#7d857d" opacity="0.33" text-anchor="middle" dominant-baseline="central">
<text transform="translate(641 508) rotate(-31)">树图 shutu.cn</text>
<text transform="translate(1921 508) rotate(-31)">树图 shutu.cn</text>
<text transform="translate(641 1490) rotate(-31)">树图 shutu.cn</text>
<text transform="translate(1921 1490) rotate(-31)">树图 shutu.cn</text>
<text transform="translate(641 2500) rotate(-31)">树图 shutu.cn</text>
<text transform="translate(1921 2500) rotate(-31)">树图 shutu.cn</text>
</g>
</svg>
